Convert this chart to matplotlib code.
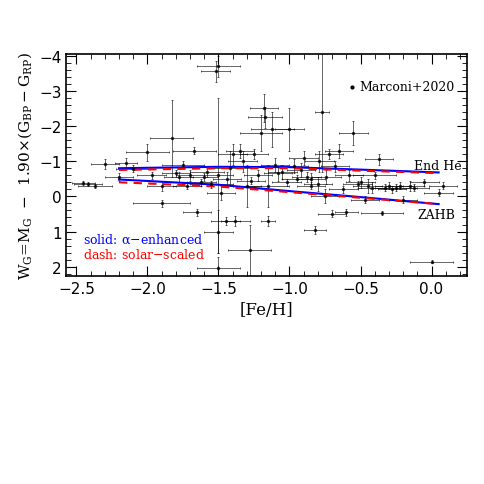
import matplotlib
matplotlib.use("Agg")
import matplotlib.pyplot as plt
from matplotlib.ticker import MultipleLocator

plt.rcParams['mathtext.fontset'] = 'dejavuserif'
plt.rcParams['mathtext.default'] = 'regular'

# Marconi+2020 points: [Fe/H], W_G, errors
feh = [-2.45, -2.42, -2.37, -2.3, -2.2, -2.15, -2.1, -2.0, -1.97, -1.9, -1.83, -1.8, -1.75, -1.72,
       -1.67, -1.65, -1.6, -1.55, -1.52, -1.5, -1.5, -1.5, -1.5, -1.48, -1.45, -1.42, -1.4, -1.38,
       -1.35, -1.3, -1.28, -1.25, -1.2, -1.18, -1.17, -1.15, -1.15, -1.12, -1.1, -1.05, -1.0, -0.95,
       -0.9, -0.85, -0.82, -0.8, -0.77, -0.75, -0.72, -0.7, -0.65, -0.6, -0.58, -0.55, -0.5, -0.47,
       -0.45, -0.4, -0.37, -0.35, -0.3, -0.25, -0.2, -0.15, -0.05, 0.0, 0.05, 0.08,
       -1.78, -1.62, -1.58, -1.44, -1.33, -1.27, -1.22, -1.08, -1.02, -0.92, -0.88, -0.79, -0.74,
       -0.68, -0.62, -0.52, -0.42, -0.33, -0.28, -0.22, -0.12, -1.9, -1.7, -0.97, -0.85]
wg = [-0.38, -0.35, -0.3, -0.92, -0.55, -0.95, -0.78, -1.25, -0.6, 0.2, -1.65, -0.65, -0.9, -0.3,
      -1.3, 0.45, -0.55, -0.35, -3.55, -3.7, -0.6, 1.0, 2.03, -0.1, 0.7, -0.8, -1.2, 0.7,
      -1.3, -0.3, 1.52, -1.2, -1.8, -2.5, -2.25, -0.3, 0.7, -1.9, -0.9, -0.7, -1.9, -0.5,
      -1.1, -0.5, 0.95, -0.35, -2.4, 0.0, -1.2, 0.5, -1.3, 0.45, -0.6, -1.8, -0.4, 0.1,
      -0.3, -0.6, -1.05, 0.47, -0.3, -0.25, 0.1, -0.3, -0.4, 1.85, -0.1, -0.3,
      -0.55, -0.4, -0.7, -0.5, -1.0, -0.45, -0.6, -0.65, -0.4, -0.75, -0.55, -1.0, -0.55,
      -0.85, -0.2, -0.35, -0.25, -0.25, -0.2, -0.3, -0.25, -0.3, -0.6, -0.85, -0.3]
feh_err = [0.08, 0.1, 0.12, 0.1, 0.1, 0.08, 0.12, 0.15, 0.1, 0.2, 0.15, 0.1, 0.15, 0.1,
           0.15, 0.1, 0.1, 0.15, 0.1, 0.15, 0.1, 0.1, 0.15, 0.1, 0.1, 0.15, 0.1, 0.1,
           0.1, 0.1, 0.15, 0.1, 0.15, 0.1, 0.12, 0.15, 0.05, 0.15, 0.1, 0.1, 0.1, 0.1,
           0.1, 0.1, 0.08, 0.1, 0.05, 0.1, 0.1, 0.1, 0.1, 0.08, 0.1, 0.1, 0.1, 0.1,
           0.1, 0.15, 0.1, 0.15, 0.1, 0.15, 0.1, 0.1, 0.1, 0.15, 0.1, 0.1,
           0.1, 0.1, 0.12, 0.1, 0.1, 0.1, 0.1, 0.1, 0.1, 0.1, 0.1, 0.1, 0.1,
           0.1, 0.1, 0.1, 0.1, 0.1, 0.1, 0.1, 0.1, 0.1, 0.1, 0.1, 0.1]
wg_err = [0.05, 0.05, 0.05, 0.15, 0.1, 0.15, 0.1, 0.25, 0.1, 0.1, 1.1, 0.1, 0.1, 0.1,
          0.1, 0.1, 0.1, 0.1, 0.3, 0.3, 2.2, 0.6, 0.3, 0.2, 0.1, 0.5, 0.3, 0.15,
          0.2, 0.6, 0.7, 0.15, 0.5, 0.4, 0.3, 0.6, 0.15, 0.5, 0.2, 0.2, 0.6, 0.1,
          0.2, 0.15, 0.12, 0.2, 1.7, 0.2, 0.15, 0.1, 0.2, 0.1, 0.15, 0.35, 0.15, 0.1,
          0.2, 0.1, 0.15, 0.05, 0.1, 0.1, 0.1, 0.15, 0.1, 0.05, 0.1, 0.1,
          0.15, 0.1, 0.15, 0.2, 0.3, 0.1, 0.15, 0.2, 0.1, 0.2, 0.15, 0.3, 0.2,
          0.15, 0.1, 0.1, 0.15, 0.1, 0.1, 0.1, 0.1, 0.15, 0.15, 0.2, 0.1]

# model loci
model_feh = [-2.2, -1.5, -1.0, -0.5, 0.05]
endhe_alpha = [-0.80, -0.84, -0.83, -0.76, -0.68]
endhe_solar = [-0.75, -0.80, -0.80, -0.73, -0.66]
zahb_alpha = [-0.48, -0.33, -0.15, 0.02, 0.22]
zahb_solar = [-0.40, -0.28, -0.12, 0.04, 0.22]

fig = plt.figure(figsize=(4.85, 4.85), dpi=100)
ax = fig.add_axes([0.137, 0.429, 0.826, 0.458])

ax.errorbar(feh, wg, xerr=feh_err, yerr=wg_err, fmt='o', ms=1.5, color='black',
            ecolor='black', elinewidth=0.6, capsize=1, capthick=0.6, alpha=0.7)
ax.plot(model_feh, endhe_alpha, color='blue', lw=1.5)
ax.plot(model_feh, zahb_alpha, color='blue', lw=1.5)
ax.plot(model_feh, endhe_solar, color='red', lw=1.5, ls=(0, (4, 3)))
ax.plot(model_feh, zahb_solar, color='red', lw=1.5, ls=(0, (4, 3)))

ax.set_xlim(-2.57, 0.25)
ax.set_ylim(2.26, -4.05)
ax.xaxis.set_major_locator(MultipleLocator(0.5))
ax.xaxis.set_minor_locator(MultipleLocator(0.1))
ax.yaxis.set_major_locator(MultipleLocator(1))
ax.yaxis.set_minor_locator(MultipleLocator(0.2))
ax.tick_params(which='both', direction='in', top=True, right=True, labelsize=11)
ax.tick_params(which='major', length=7)
ax.tick_params(which='minor', length=3.5)
for s in ax.spines.values():
    s.set_linewidth(1.2)
ax.set_xlabel('[Fe/H]', fontsize=12, family='DejaVu Serif')
ax.set_ylabel(r'W$_G$=M$_G$  $-$  1.90$\times$(G$_{BP}-$G$_{RP}$)', fontsize=11,
              family='DejaVu Serif')

ax.plot([-0.56], [-3.12], 'o', ms=2, color='black')
ax.text(-0.51, -3.12, 'Marconi+2020', fontsize=9, va='center', family='DejaVu Serif')
ax.text(-0.12, -0.87, 'End He', fontsize=9, va='center', family='DejaVu Serif')
ax.text(-0.1, 0.52, 'ZAHB', fontsize=9, va='center', family='DejaVu Serif')
ax.text(-2.45, 1.32, r'solid: $\alpha$$-$enhanced', color='blue', fontsize=9, family='DejaVu Serif')
ax.text(-2.45, 1.74, 'dash: solar$-$scaled', color='red', fontsize=9, family='DejaVu Serif')

fig.savefig('out.png', dpi=100)
